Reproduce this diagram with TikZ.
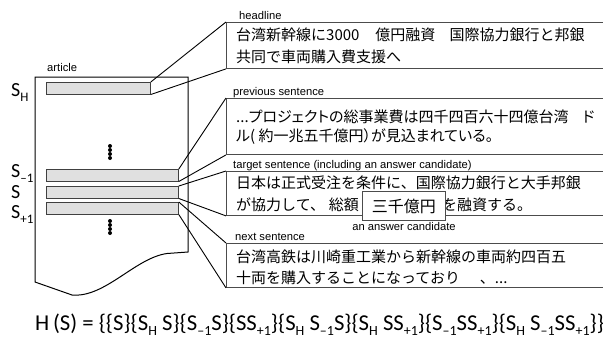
\documentclass[tikz,border=0pt]{standalone}
\usepackage{fontspec}
\setmainfont{Liberation Sans}
\newfontfamily\jp{Noto Sans CJK JP}
\newfontfamily\jpp[RawFeature=+palt]{Noto Sans CJK JP}
\newfontfamily\frm{Carlito}
\newcommand{\mysub}[1]{\raisebox{-0.55ex}{\fontsize{13}{13}\selectfont #1}}
\newcommand{\fsub}[1]{\raisebox{-0.45ex}{\fontsize{14}{14}\selectfont #1}}
\begin{document}
\begin{tikzpicture}[x=1pt,y=-1pt,
  bar/.style={draw=black!75, fill=black!12, line width=0.8pt, inner sep=0, anchor=north west, minimum height=11.7pt},
  sbox/.style={draw=black!70, line width=0.9pt, fill=white, anchor=north west, minimum width=420pt, inner sep=0},
  lab/.style={font=\fontsize{11.2}{12}\selectfont, anchor=base west, inner sep=0},
  jtxt/.style={font=\jp\fontsize{15}{18}\selectfont, anchor=west, inner sep=0},
  slab/.style={font=\frm\fontsize{20}{20}\selectfont, anchor=base west, inner sep=0},
  conn/.style={line width=0.9pt},
  dot/.style={circle, fill=black, inner sep=0, minimum size=4pt}]
\clip (0,0) rectangle (603,343);
% article
\draw[line width=1pt] (35,77) -- (188,77) -- (188,252) -- (167,253.5)
   .. controls (135,258) and (105,298) .. (72,295) -- (35,282) -- cycle;
\node[lab] (artlab) at (47,71) {article};
% bars
\node[bar, minimum width=104pt] (bH) at (46,82) {};
\node[bar, minimum width=132pt] (bm) at (46,169) {};
\node[bar, minimum width=132pt] (b0) at (46,186) {};
\node[bar, minimum width=132pt] (bp) at (46,202) {};
% dots
\foreach \yy [count=\i] in {146,150,154,158} \node[dot] (da\i) at (110,\yy) {};
\foreach \yy [count=\i] in {221,225,229,233} \node[dot] (db\i) at (110,\yy) {};
% S labels
\node[slab] (sH) at (11,96) {S\mysub{H}};
\node[slab] (sm) at (11,177) {S\mysub{–1}};
\node[slab] (s0) at (11,198) {S};
\node[slab] (sp) at (11,218) {S\mysub{+1}};
% boxes
\node[sbox, minimum height=46pt] (hb) at (226,22) {};
\node[sbox, minimum height=56pt] (pb) at (226,98) {};
\node[sbox, minimum height=44pt] (tb) at (226,171) {};
\node[sbox, minimum height=44pt] (nb) at (226,243) {};
% labels
\node[lab] (hl) at (239,19.5) {headline};
\node[lab] (pl) at (233,95.5) {previous sentence};
\node[lab] (tl) at (233,168.5) {target sentence (including an answer candidate)};
\node[lab] (nl) at (235,240.5) {next sentence};
% connectors
\draw[conn] (hb.north west) -- (bH.north east);
\draw[conn] (hb.south west) -- (bH.south east);
\draw[conn] (pb.north west) -- (bm.north east);
\draw[conn] (pb.south west) -- (bm.south east);
\draw[conn] (tb.north west) -- (b0.north east);
\draw[conn] (tb.south west) -- (b0.south east);
\draw[conn] (nb.north west) -- (bp.north east);
\draw[conn] (nb.south west) -- (bp.south east);
% texts
\node[jtxt] (h1) at (236,35) {台湾新幹線に3000\hspace{16pt}億円融資\hspace{14pt}国際協力銀行と邦銀};
\node[jtxt] (h2) at (236,57) {共同で車両購入費支援へ};
\node[jtxt, font=\jpp\fontsize{15}{18}\selectfont] (p1) at (236,117) {...プロジェクトの総事業費は四千四百六十四億台湾\hspace{14pt}ド};
\node[jtxt, font=\jpp\fontsize{15}{18}\selectfont] (p2) at (236,137) {ル( 約一兆五千億円）が見込まれている。};
\node[jtxt] (t1) at (236,183) {日本は正式受注を条件に、国際協力銀行と大手邦銀};
\node[jtxt] (t2) at (236,205) {が協力して、\hspace{4pt}総額};
\node[jtxt] (t3) at (442,205) {を融資する。};
\node[draw=black!70, line width=0.9pt, fill=white, minimum width=83pt, minimum height=29pt, inner sep=0, anchor=north west, font=\jp\fontsize{16}{18}\selectfont] (ab) at (362,191) {三千億円};
\node[font=\fontsize{11.2}{12}\selectfont, inner sep=0, anchor=base] (al) at (ab.south |- 0,230) {an answer candidate};
\node[jtxt] (n1) at (236,257) {台湾高鉄は川崎重工業から新幹線の車両約四百五};
\node[jtxt] (n2) at (236,278) {十両を購入することになっており\hspace{20pt}、...};
% formula
\node[font=\frm\fontsize{22.7}{23}\selectfont, inner sep=0, anchor=west] (f) at (35,325)
 {H\,(S) = \{\{S\}\{S\fsub{H} S\}\{S\fsub{–1}S\}\{SS\fsub{+1}\}\{S\fsub{H} S\fsub{–1}S\}\{S\fsub{H} SS\fsub{+1}\}\{S\fsub{–1}SS\fsub{+1}\}\{S\fsub{H} S\fsub{–1}SS\fsub{+1}\}\}};
\end{tikzpicture}
\end{document}
